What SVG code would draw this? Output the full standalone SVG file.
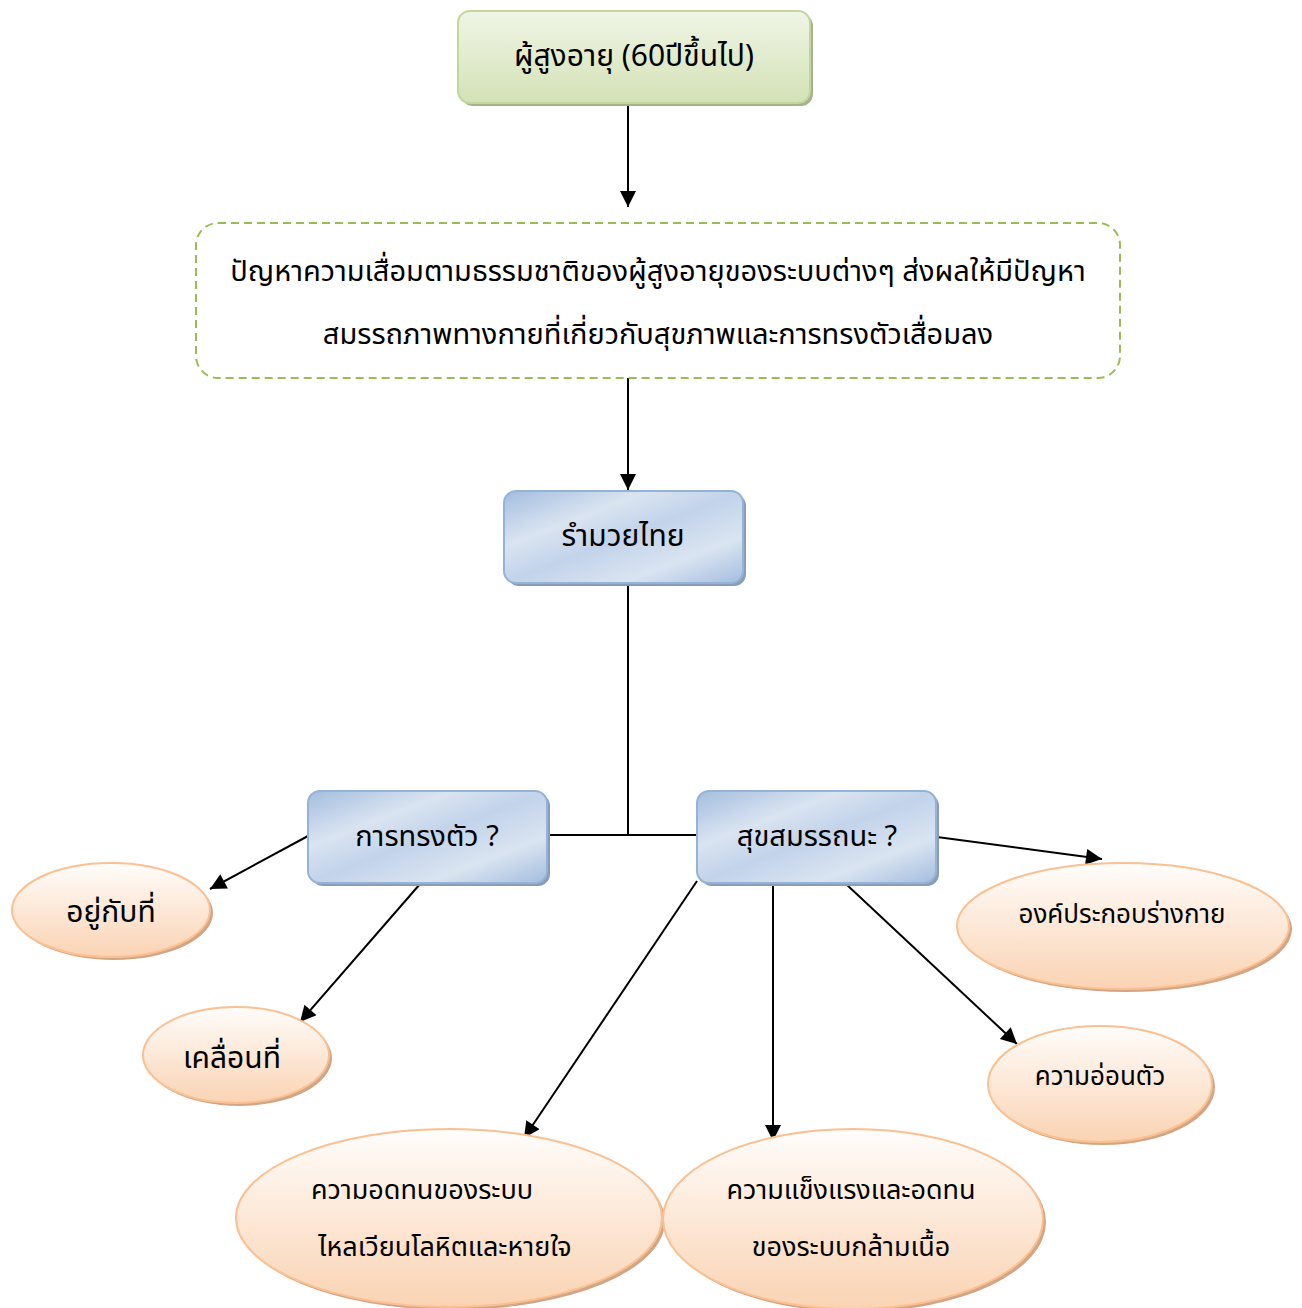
<svg xmlns="http://www.w3.org/2000/svg" width="1302" height="1308" viewBox="0 0 1302 1308">
<defs>
  <linearGradient id="gGreen" x1="0" y1="0" x2="0" y2="1">
    <stop offset="0" stop-color="#f0f5e6"/>
    <stop offset="1" stop-color="#d3e2b6"/>
  </linearGradient>
  <linearGradient id="gBlue" x1="0" y1="0" x2="1" y2="1">
    <stop offset="0" stop-color="#a3bddf"/>
    <stop offset="0.3" stop-color="#dae4f1"/>
    <stop offset="0.5" stop-color="#c2d3ea"/>
    <stop offset="0.75" stop-color="#dae4f1"/>
    <stop offset="1" stop-color="#a3bddf"/>
  </linearGradient>
  <linearGradient id="gOrange" x1="0" y1="0" x2="0" y2="1">
    <stop offset="0" stop-color="#fffdfb"/>
    <stop offset="1" stop-color="#fad3b3"/>
  </linearGradient>
  <marker id="a2" viewBox="0 0 10 10" refX="10" refY="5" markerWidth="20" markerHeight="16" orient="auto" markerUnits="userSpaceOnUse"><path d="M0,0 L10,5 L0,10 z" fill="#000"/></marker>
  <style>
    .t { font-family: "Noto Sans Thai", "Noto Serif Thai", "Loma", "Garuda", "Liberation Serif", serif; fill:#000; text-anchor: middle; }
    .green { fill:url(#gGreen); stroke:#c3d69b; stroke-width:2; }
    .blue { fill:url(#gBlue); stroke:#95b3d7; stroke-width:2; }
    .orange { fill:url(#gOrange); stroke:#fac090; stroke-width:2; }
    .shB { fill:#8a9cb6; }
    .shG { fill:#a6b38f; }
    .shO { fill:#d1a586; }
    .ln { stroke:#000; stroke-width:2; fill:none; }
  </style>
</defs>
<rect width="1302" height="1308" fill="#fff"/>

<g id="connectors">
  <line x1="628" y1="98" x2="628" y2="207" class="ln" marker-end="url(#a2)"/>
  <line x1="628" y1="378" x2="628" y2="490" class="ln" marker-end="url(#a2)"/>
  <polyline points="628,583 628,835" class="ln"/>
  <line x1="548" y1="835" x2="697" y2="835" class="ln"/>
  <line x1="308" y1="836" x2="210" y2="889" class="ln" marker-end="url(#a2)"/>
  <line x1="420" y1="884" x2="300" y2="1022" class="ln" marker-end="url(#a2)"/>
  <line x1="697" y1="881" x2="524" y2="1138" class="ln" marker-end="url(#a2)"/>
  <line x1="773" y1="880" x2="773" y2="1141" class="ln" marker-end="url(#a2)"/>
  <line x1="846" y1="884" x2="1017" y2="1044" class="ln" marker-end="url(#a2)"/>
  <line x1="937" y1="837" x2="1102" y2="859" class="ln" marker-end="url(#a2)"/>
</g>

<g id="n-elderly">
  <rect x="461" y="14" width="352" height="92" rx="12" class="shG"/>
  <rect x="458" y="11" width="352" height="92" rx="12" class="green"/>
  <text x="634" y="66" class="t" font-size="30">ผู้สูงอายุ (60ปีขึ้นไป)</text>
</g>

<g id="n-problem">
  <rect x="196" y="223" width="924" height="155" rx="22" fill="#fff" stroke="#9bbb59" stroke-width="2" stroke-dasharray="8,5"/>
  <text x="658" y="281" class="t" font-size="29">ปัญหาความเสื่อมตามธรรมชาติของผู้สูงอายุของระบบต่างๆ ส่งผลให้มีปัญหา</text>
  <text x="658" y="344" class="t" font-size="29">สมรรถภาพทางกายที่เกี่ยวกับสุขภาพและการทรงตัวเสื่อมลง</text>
</g>

<g id="n-muaythai">
  <rect x="507" y="494" width="239" height="92" rx="12" class="shB"/>
  <rect x="504" y="491" width="239" height="92" rx="12" class="blue"/>
  <text x="623" y="546" class="t" font-size="30">รำมวยไทย</text>
</g>

<g id="n-balance">
  <rect x="311" y="794" width="239" height="92" rx="12" class="shB"/>
  <rect x="308" y="791" width="239" height="92" rx="12" class="blue"/>
  <text x="427" y="846" class="t" font-size="29">การทรงตัว ?</text>
</g>

<g id="n-fitness">
  <rect x="700" y="794" width="239" height="92" rx="12" class="shB"/>
  <rect x="697" y="791" width="239" height="92" rx="12" class="blue"/>
  <text x="817" y="846" class="t" font-size="29">สุขสมรรถนะ ?</text>
</g>

<g id="n-static">
  <ellipse cx="114" cy="913" rx="99" ry="47" class="shO"/>
  <ellipse cx="111" cy="910" rx="99" ry="47" class="orange"/>
  <text x="111" y="922" class="t" font-size="30">อยู่กับที่</text>
</g>

<g id="n-moving">
  <ellipse cx="239" cy="1058" rx="93" ry="48" class="shO"/>
  <ellipse cx="236" cy="1055" rx="93" ry="48" class="orange"/>
  <text x="232" y="1068" class="t" font-size="30">เคลื่อนที่</text>
</g>

<g id="n-body">
  <ellipse cx="1126" cy="929" rx="166" ry="63" class="shO"/>
  <ellipse cx="1123" cy="926" rx="166" ry="63" class="orange"/>
  <text x="1122" y="923" class="t" font-size="26">องค์ประกอบร่างกาย</text>
</g>

<g id="n-flex">
  <ellipse cx="1103" cy="1087" rx="112" ry="58" class="shO"/>
  <ellipse cx="1100" cy="1084" rx="112" ry="58" class="orange"/>
  <text x="1100" y="1085" class="t" font-size="26">ความอ่อนตัว</text>
</g>

<g id="n-cardio">
  <ellipse cx="452" cy="1221" rx="213" ry="89" class="shO"/>
  <ellipse cx="449" cy="1218" rx="213" ry="89" class="orange"/>
  <text x="422" y="1199" class="t" font-size="27">ความอดทนของระบบ</text>
  <text x="445" y="1256" class="t" font-size="27">ไหลเวียนโลหิตและหายใจ</text>
</g>

<g id="n-muscle">
  <ellipse cx="856" cy="1222" rx="190" ry="90" class="shO"/>
  <ellipse cx="853" cy="1219" rx="190" ry="90" class="orange"/>
  <text x="851" y="1199" class="t" font-size="27">ความแข็งแรงและอดทน</text>
  <text x="851" y="1256" class="t" font-size="27">ของระบบกล้ามเนื้อ</text>
</g>
</svg>
